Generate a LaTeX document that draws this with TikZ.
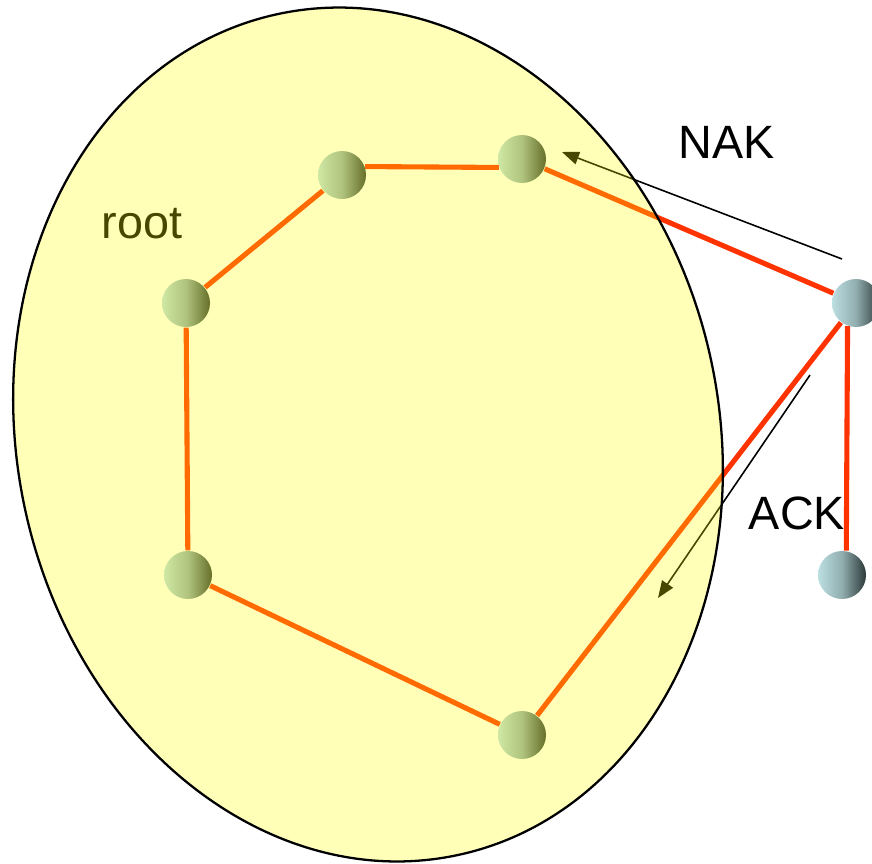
\documentclass[tikz,border=0pt]{standalone}
\usepackage{fontspec}
\setmainfont{Liberation Sans}
\usetikzlibrary{positioning,arrows.meta,calc,backgrounds}
\definecolor{linkred}{HTML}{FF3300}
\definecolor{ballblue}{HTML}{BCDFE2}
\definecolor{balldark}{HTML}{2C3838}
\definecolor{areayellow}{HTML}{FFFF00}
\tikzset{
  ball/.style={circle,minimum size=4.8mm,inner sep=0pt,left color=ballblue,right color=balldark,
               middle color=ballblue!70!balldark},
  link/.style={draw=linkred,line width=1.45pt},
  msg/.style={-{Triangle[length=1.7mm,width=1.3mm]},line width=0.45pt},
  lbl/.style={font=\fontsize{13.3}{16}\selectfont,inner sep=0pt},
  area/.style={draw=black,line width=0.65pt,fill=areayellow,fill opacity=0.28},
}
\begin{document}
\begin{tikzpicture}
  \useasboundingbox (0,0) rectangle (8.72,-8.63);
  % group members and the two outside hosts
  \node[ball] (a) at (3.42,-1.75) {};
  \node[ball] (b) at (5.22,-1.59) {};
  \node[ball] (c) at (1.86,-3.03) {};
  \node[ball] (d) at (1.88,-5.75) {};
  \node[ball] (e) at (5.22,-7.35) {};
  \node[ball] (f) at (8.56,-3.03) {};
  \node[ball] (g) at (8.42,-5.75) {};
  % links, kept under the balls
  \begin{pgfonlayer}{background}
    \draw[link] (a.20) -- (b.200);
    \draw[link] (a) -- (c);
    \draw[link] (c) -- (d);
    \draw[link] (d) -- (e);
    \draw[link] (e) -- (f);
    \draw[link] (b) -- (f);
    \draw[link] (f.250) -- (g.80);
  \end{pgfonlayer}
  % labels
  \node[lbl] (root) at (1.42,-2.24) {root};
  \node[lbl] (nak) at (7.27,-1.42) {NAK};
  \node[lbl] (ack) at (7.97,-5.13) {ACK};
  % messages
  \coordinate (nakfrom) at (8.42,-2.59);
  \coordinate (naktip) at (5.62,-1.52);
  \coordinate (ackfrom) at (8.10,-3.75);
  \coordinate (acktip) at (6.58,-5.98);
  \draw[msg] (nakfrom) -- (naktip);
  \draw[msg] (ackfrom) -- (acktip);
  % the group area goes on top, see-through
  \coordinate (mid) at (3.68,-4.345);
  \path[area,rotate around={12:(mid)}] (mid) ellipse [x radius=3.51,y radius=4.30];
\end{tikzpicture}
\end{document}
